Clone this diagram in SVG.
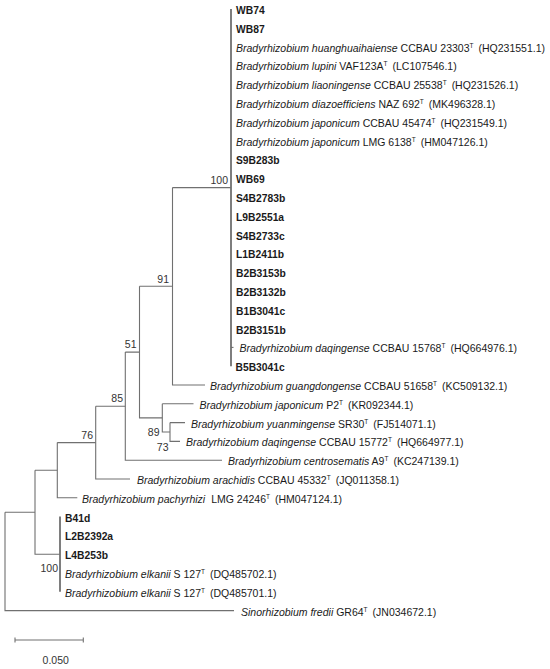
<svg xmlns="http://www.w3.org/2000/svg" width="550" height="669" viewBox="0 0 550 669">
<style>
text{font-family:"Liberation Sans",Arial,sans-serif;font-size:10.5px;fill:#1a1a1a}
.b{font-weight:bold;font-size:10.3px}
.it{font-style:italic}
.sup{font-size:6.5px}
.bs{font-size:10.5px;fill:#333}
.ln{stroke:#707070;stroke-width:1.1;fill:none}
.cl{stroke:#707070;stroke-width:1.8;fill:none}
</style>
<rect width="550" height="669" fill="#fff"/>
<g id="connectors">
<path class="cl" d="M231,9V366.2"/>
<path class="ln" d="M231,347.4H233.5"/>
<path class="ln" d="M172.5,187.6H231M172.5,187.6V385H205"/>
<path class="ln" d="M139.5,286.3H172.5M139.5,286.3V417.9H162.3"/>
<path class="ln" d="M162.3,403.8H193.5M162.3,403.8V432H170"/>
<path class="ln" d="M170,422.6H185M170,422.6V441.4H180"/>
<path class="ln" d="M125.3,352.1H139.5M125.3,352.1V460.2H222"/>
<path class="ln" d="M95.7,406.2H125.3M95.7,406.2V479H130"/>
<path class="ln" d="M57.3,442.6H95.7M57.3,442.6V497.8H77.3"/>
<path class="ln" d="M35,470.2H57.3M35,470.2V554.2H60"/>
<path class="cl" d="M60,516.6V591.8"/>
<path class="ln" d="M5,512.2H35M5,512.2V610.6H234"/>
</g>
<g id="leaves">
<g id="n-WB74"><text class="b" x="236" y="14">WB74</text></g>
<g id="n-WB87"><text class="b" x="236" y="32.8">WB87</text></g>
<g id="n-huang"><text x="236" y="51.6"><tspan class="it">Bradyrhizobium huanghuaihaiense</tspan> CCBAU 23303<tspan class="sup" dy="-4">T</tspan><tspan dy="4" dx="5">(HQ231551.1)</tspan></text></g>
<g id="n-lupini"><text x="236" y="70.4"><tspan class="it">Bradyrhizobium lupini</tspan> VAF123A<tspan class="sup" dy="-4">T</tspan><tspan dy="4" dx="5">(LC107546.1)</tspan></text></g>
<g id="n-liao"><text x="236" y="89.2"><tspan class="it">Bradyrhizobium liaoningense</tspan> CCBAU 25538<tspan class="sup" dy="-4">T</tspan><tspan dy="4" dx="5">(HQ231526.1)</tspan></text></g>
<g id="n-diazo"><text x="236" y="108"><tspan class="it">Bradyrhizobium diazoefficiens</tspan> NAZ 692<tspan class="sup" dy="-4">T</tspan><tspan dy="4" dx="5">(MK496328.1)</tspan></text></g>
<g id="n-japCCBAU"><text x="236" y="126.8"><tspan class="it">Bradyrhizobium japonicum</tspan> CCBAU 45474<tspan class="sup" dy="-4">T</tspan><tspan dy="4" dx="5">(HQ231549.1)</tspan></text></g>
<g id="n-japLMG"><text x="236" y="145.6"><tspan class="it">Bradyrhizobium japonicum</tspan> LMG 6138<tspan class="sup" dy="-4">T</tspan><tspan dy="4" dx="5">(HM047126.1)</tspan></text></g>
<g id="n-S9B283b"><text class="b" x="236" y="164.4">S9B283b</text></g>
<g id="n-WB69"><text class="b" x="236" y="183.2">WB69</text></g>
<g id="n-S4B2783b"><text class="b" x="236" y="202">S4B2783b</text></g>
<g id="n-L9B2551a"><text class="b" x="236" y="220.8">L9B2551a</text></g>
<g id="n-S4B2733c"><text class="b" x="236" y="239.6">S4B2733c</text></g>
<g id="n-L1B2411b"><text class="b" x="236" y="258.4">L1B2411b</text></g>
<g id="n-B2B3153b"><text class="b" x="236" y="277.2">B2B3153b</text></g>
<g id="n-B2B3132b"><text class="b" x="236" y="296">B2B3132b</text></g>
<g id="n-B1B3041c"><text class="b" x="236" y="314.8">B1B3041c</text></g>
<g id="n-B2B3151b"><text class="b" x="236" y="333.6">B2B3151b</text></g>
<g id="n-daq15768"><text x="239.5" y="352.4"><tspan class="it">Bradyrhizobium daqingense</tspan> CCBAU 15768<tspan class="sup" dy="-4">T</tspan><tspan dy="4" dx="5">(HQ664976.1)</tspan></text></g>
<g id="n-B5B3041c"><text class="b" x="235.5" y="371.2">B5B3041c</text></g>
<g id="n-guang"><text x="210" y="390"><tspan class="it">Bradyrhizobium guangdongense</tspan> CCBAU 51658<tspan class="sup" dy="-4">T</tspan><tspan dy="4" dx="5">(KC509132.1)</tspan></text></g>
<g id="n-japP2"><text x="199.5" y="408.8"><tspan class="it">Bradyrhizobium japonicum</tspan> P2<tspan class="sup" dy="-4">T</tspan><tspan dy="4" dx="5">(KR092344.1)</tspan></text></g>
<g id="n-yuan"><text x="191" y="427.6"><tspan class="it">Bradyrhizobium yuanmingense</tspan> SR30<tspan class="sup" dy="-4">T</tspan><tspan dy="4" dx="5">(FJ514071.1)</tspan></text></g>
<g id="n-daq15772"><text x="186" y="446.4"><tspan class="it">Bradyrhizobium daqingense</tspan> CCBAU 15772<tspan class="sup" dy="-4">T</tspan><tspan dy="4" dx="5">(HQ664977.1)</tspan></text></g>
<g id="n-centro"><text x="228" y="465.2"><tspan class="it">Bradyrhizobium centrosematis</tspan> A9<tspan class="sup" dy="-4">T</tspan><tspan dy="4" dx="5">(KC247139.1)</tspan></text></g>
<g id="n-arachidis"><text x="137" y="484"><tspan class="it">Bradyrhizobium arachidis</tspan> CCBAU 45332<tspan class="sup" dy="-4">T</tspan><tspan dy="4" dx="5">(JQ011358.1)</tspan></text></g>
<g id="n-pachy"><text x="82" y="502.8"><tspan class="it">Bradyrhizobium pachyrhizi</tspan><tspan dx="6">LMG 24246</tspan><tspan class="sup" dy="-4">T</tspan><tspan dy="4" dx="5">(HM047124.1)</tspan></text></g>
<g id="n-B41d"><text class="b" x="65" y="521.6">B41d</text></g>
<g id="n-L2B2392a"><text class="b" x="65" y="540.4">L2B2392a</text></g>
<g id="n-L4B253b"><text class="b" x="65" y="559.2">L4B253b</text></g>
<g id="n-elkanii1"><text x="65" y="578"><tspan class="it">Bradyrhizobium elkanii</tspan> S 127<tspan class="sup" dy="-4">T</tspan><tspan dy="4" dx="5">(DQ485702.1)</tspan></text></g>
<g id="n-elkanii2"><text x="65" y="596.8"><tspan class="it">Bradyrhizobium elkanii</tspan> S 127<tspan class="sup" dy="-4">T</tspan><tspan dy="4" dx="5">(DQ485701.1)</tspan></text></g>
<g id="n-sino"><text x="241" y="615.6"><tspan class="it">Sinorhizobium fredii</tspan> GR64<tspan class="sup" dy="-4">T</tspan><tspan dy="4" dx="5">(JN034672.1)</tspan></text></g>
</g>
<g id="bootstrap">
<g id="b100a"><text class="bs" x="228" y="183.5" text-anchor="end">100</text></g>
<g id="b91"><text class="bs" x="169" y="282.5" text-anchor="end">91</text></g>
<g id="b51"><text class="bs" x="136.5" y="348" text-anchor="end">51</text></g>
<g id="b85"><text class="bs" x="123" y="402" text-anchor="end">85</text></g>
<g id="b76"><text class="bs" x="93" y="439" text-anchor="end">76</text></g>
<g id="b89"><text class="bs" x="159.5" y="436" text-anchor="end">89</text></g>
<g id="b73"><text class="bs" x="168.5" y="451" text-anchor="end">73</text></g>
<g id="b100b"><text class="bs" x="58" y="572" text-anchor="end">100</text></g>
</g>
<g id="scale">
<path class="ln" d="M15,640H83.3M15,637.5V642.5M83.3,637.5V642.5"/>
<text class="bs" x="55.7" y="664" text-anchor="middle">0.050</text>
</g>
</svg>
